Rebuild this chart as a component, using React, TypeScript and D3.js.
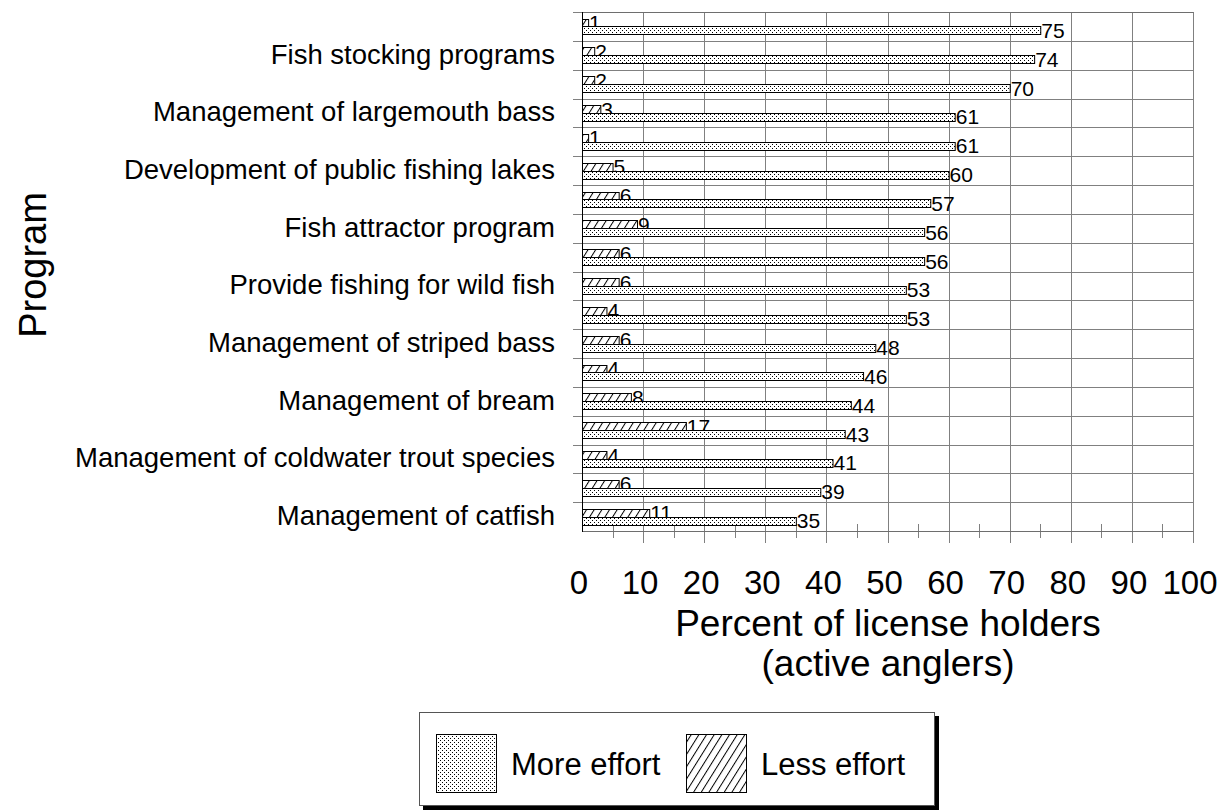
import React, { useEffect, useRef } from 'react';
import * as d3 from 'd3';

// rows top to bottom; only every other row carries a label in the source chart
const programs = [
  '', 'Fish stocking programs',
  '', 'Management of largemouth bass',
  '', 'Development of public fishing lakes',
  '', 'Fish attractor program',
  '', 'Provide fishing for wild fish',
  '', 'Management of striped bass',
  '', 'Management of bream',
  '', 'Management of coldwater trout species',
  '', 'Management of catfish',
];
const moreEffort = [75, 74, 70, 61, 61, 60, 57, 56, 56, 53, 53, 48, 46, 44, 43, 41, 39, 35];
const lessEffort = [1, 2, 2, 3, 1, 5, 6, 9, 6, 6, 4, 6, 4, 8, 17, 4, 6, 11];
const xTicks = [0, 10, 20, 30, 40, 50, 60, 70, 80, 90, 100];
const xMinorTicks = [5, 15, 25, 35, 45, 55, 65, 75, 85, 95];
const seriesNames = ['More effort', 'Less effort'];
const xTitle = ['Percent of license holders', '(active anglers)'];
const yTitle = 'Program';

const FONT = 'Liberation Sans, Arial, sans-serif';

const App: React.FC = () => {
  const svgRef = useRef<SVGSVGElement>(null);

  useEffect(() => {
    if (!svgRef.current) return;
    const width = 1222;
    const height = 811;
    const plot = { left: 582, right: 1193, top: 12, bottom: 531 };

    const svg = d3.select(svgRef.current)
      .attr('width', width)
      .attr('height', height)
      .html('');

    svg.append('rect').attr('width', width).attr('height', height).attr('fill', '#fff');

    // fill patterns
    const defs = svg.append('defs');
    const dots = defs.append('pattern')
      .attr('id', 'dots')
      .attr('patternUnits', 'userSpaceOnUse')
      .attr('width', 4)
      .attr('height', 4);
    dots.append('rect').attr('width', 4).attr('height', 4).attr('fill', '#fff');
    dots.append('rect').attr('x', 0).attr('y', 0).attr('width', 1).attr('height', 1).attr('fill', '#000');
    dots.append('rect').attr('x', 2).attr('y', 2).attr('width', 1).attr('height', 1).attr('fill', '#000');

    const hatch = defs.append('pattern')
      .attr('id', 'hatch')
      .attr('patternUnits', 'userSpaceOnUse')
      .attr('width', 6.5)
      .attr('height', 6.5)
      .attr('patternTransform', 'rotate(32)');
    hatch.append('rect').attr('width', 6.5).attr('height', 6.5).attr('fill', '#fff');
    hatch.append('line')
      .attr('x1', 0.5).attr('x2', 0.5).attr('y1', 0).attr('y2', 6.5)
      .attr('stroke', '#000').attr('stroke-width', 1);

    const rows = programs.map((_, i) => i);

    const x = d3.scaleLinear().domain([0, 100]).range([plot.left, plot.right]);
    const y = d3.scaleBand<number>().domain(rows).range([plot.top, plot.bottom]);
    const inner = d3.scaleBand<string>()
      .domain(['less', 'more'])
      .range([0, y.bandwidth()])
      .paddingOuter(0.86);

    // gridlines
    const grid = svg.append('g').attr('stroke', '#808080').attr('stroke-width', 1);
    grid.selectAll('line.v')
      .data(xTicks.slice(1))
      .join('line')
      .attr('x1', d => Math.round(x(d)) + 0.5)
      .attr('x2', d => Math.round(x(d)) + 0.5)
      .attr('y1', plot.top)
      .attr('y2', plot.bottom + 12);
    const bounds = rows.map(r => y(r) as number);
    grid.selectAll('line.h')
      .data(bounds)
      .join('line')
      .attr('x1', plot.left - 9)
      .attr('x2', plot.right)
      .attr('y1', d => Math.round(d) + 0.5)
      .attr('y2', d => Math.round(d) + 0.5);
    // minor ticks on the x axis
    grid.selectAll('line.m')
      .data(xMinorTicks)
      .join('line')
      .attr('x1', d => Math.round(x(d)) + 0.5)
      .attr('x2', d => Math.round(x(d)) + 0.5)
      .attr('y1', plot.bottom - 7)
      .attr('y2', plot.bottom + 7);
    // bottom axis line and top frame
    svg.append('line')
      .attr('x1', plot.left).attr('x2', plot.right + 0.5)
      .attr('y1', plot.bottom + 0.5).attr('y2', plot.bottom + 0.5)
      .attr('stroke', '#6e6e6e');
    svg.append('line')
      .attr('x1', plot.left).attr('x2', plot.right + 0.5)
      .attr('y1', plot.top + 0.5).attr('y2', plot.top + 0.5)
      .attr('stroke', '#6e6e6e');

    // bars
    const barGroup = svg.append('g');
    const series = [
      { key: 'less', values: lessEffort, fill: 'url(#hatch)' },
      { key: 'more', values: moreEffort, fill: 'url(#dots)' },
    ];
    series.forEach(s => {
      const g = barGroup.append('g');
      g.selectAll('rect')
        .data(s.values)
        .join('rect')
        .attr('x', plot.left + 0.5)
        .attr('y', (_, i) => Math.round((y(i) as number) + (inner(s.key) as number)) + 0.5)
        .attr('width', d => x(d) - plot.left)
        .attr('height', Math.round(inner.bandwidth()))
        .attr('fill', s.fill)
        .attr('stroke', '#000')
        .attr('stroke-width', 1);
      g.selectAll('text')
        .data(s.values)
        .join('text')
        .attr('x', d => x(d) + 1)
        .attr('y', (_, i) => (y(i) as number) + (inner(s.key) as number) + inner.bandwidth() / 2)
        .attr('dy', '0.36em')
        .attr('font-family', FONT)
        .attr('font-size', 21)
        .attr('fill', '#000')
        .text(d => d);
    });

    // left axis line
    svg.append('line')
      .attr('x1', plot.left + 0.5).attr('x2', plot.left + 0.5)
      .attr('y1', plot.top).attr('y2', plot.bottom + 1)
      .attr('stroke', '#000');

    // category labels
    svg.append('g')
      .selectAll('text')
      .data(programs)
      .join('text')
      .attr('x', 555)
      .attr('y', (_, i) => (y(i) as number) + y.bandwidth() / 2)
      .attr('dy', '0.3em')
      .attr('text-anchor', 'end')
      .attr('font-family', FONT)
      .attr('font-size', 27.5)
      .text(d => d);

    // x tick labels
    svg.append('g')
      .selectAll('text')
      .data(xTicks)
      .join('text')
      .attr('x', d => x(d) - 3)
      .attr('y', 594)
      .attr('text-anchor', 'middle')
      .attr('font-family', FONT)
      .attr('font-size', 33)
      .text(d => d);

    // axis titles
    svg.append('g')
      .selectAll('text')
      .data(xTitle)
      .join('text')
      .attr('x', 888)
      .attr('y', (_, i) => 636 + i * 40)
      .attr('text-anchor', 'middle')
      .attr('font-family', FONT)
      .attr('font-size', 37)
      .text(d => d);

    svg.append('text')
      .attr('transform', 'translate(46,265) rotate(-90)')
      .attr('text-anchor', 'middle')
      .attr('font-family', FONT)
      .attr('font-size', 38)
      .text(yTitle);

    // legend
    const legend = svg.append('g');
    legend.append('rect')
      .attr('x', 423).attr('y', 716).attr('width', 516).attr('height', 94)
      .attr('fill', '#000');
    legend.append('rect')
      .attr('x', 419.5).attr('y', 712.5).attr('width', 515).attr('height', 93)
      .attr('fill', '#fff').attr('stroke', '#555');
    const legendItems = [
      { name: seriesNames[0], fill: 'url(#dots)', x: 436 },
      { name: seriesNames[1], fill: 'url(#hatch)', x: 686 },
    ];
    legendItems.forEach(item => {
      legend.append('rect')
        .attr('x', item.x + 0.5).attr('y', 734.5).attr('width', 60).attr('height', 58)
        .attr('fill', item.fill).attr('stroke', '#000');
      legend.append('text')
        .attr('x', item.x + 75)
        .attr('y', 775)
        .attr('font-family', FONT)
        .attr('font-size', 31)
        .text(item.name);
    });
  }, []);

  return (
    <svg ref={svgRef} style={{ position: 'absolute', left: 0, top: 0, display: 'block' }}></svg>
  );
};

export default App;
